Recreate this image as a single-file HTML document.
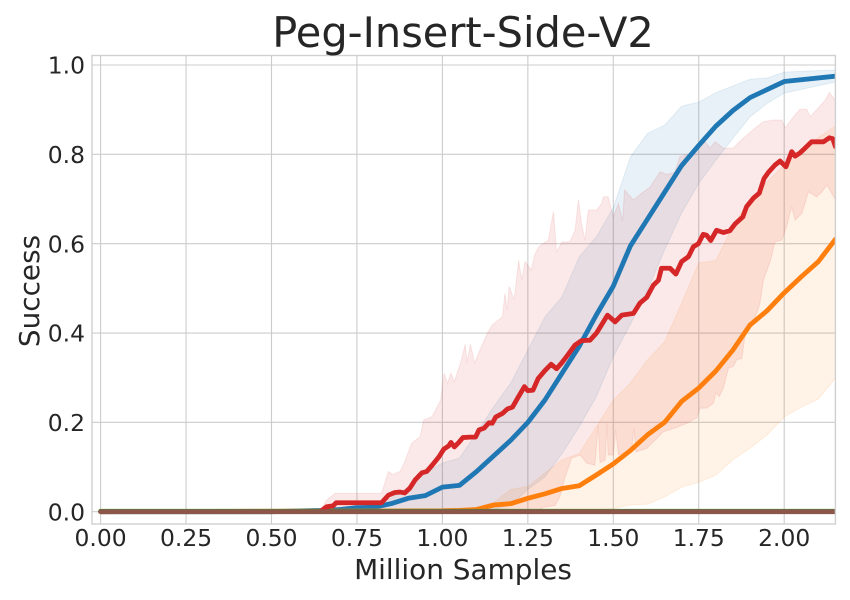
<!DOCTYPE html>
<html lang="en">
<head>
<meta charset="utf-8">
<title>Peg-Insert-Side-V2</title>
<style>
html,body{margin:0;padding:0;background:#fff;width:850px;height:600px;overflow:hidden}
svg{display:block}
text{font-family:"DejaVu Sans","Liberation Sans",sans-serif;fill:#262626}
</style>
</head>
<body>
<svg id="chart" xmlns="http://www.w3.org/2000/svg" width="850" height="600" viewBox="0 0 850 600">
  <defs><clipPath id="plot-clip"><rect x="92" y="55.5" width="743.4" height="468.5"/></clipPath></defs>
  <rect x="0" y="0" width="850" height="600" fill="#fff"/>
  <g id="grid"></g>
  <g id="bands" clip-path="url(#plot-clip)"></g>
  <g id="lines" clip-path="url(#plot-clip)"></g>
  <rect x="92" y="55.5" width="743.4" height="468.5" fill="none" stroke="#d0d0d0" stroke-width="1.4"/>
  <g id="ticks"></g>
  <text x="463" y="47" text-anchor="middle" font-size="41.5px">Peg-Insert-Side-V2</text>
  <text x="463" y="579" text-anchor="middle" font-size="27.9px">Million Samples</text>
  <text x="39" y="291" text-anchor="middle" font-size="27.9px" transform="rotate(-90 39 291)">Success</text>
</svg>
<script>
const xTicks = [0, 0.25, 0.5, 0.75, 1, 1.25, 1.5, 1.75, 2];
const xTickLabels = ["0.00", "0.25", "0.50", "0.75", "1.00", "1.25", "1.50", "1.75", "2.00"];
const yTicks = [0, 0.2, 0.4, 0.6, 0.8, 1];
const yTickLabels = ["0.0", "0.2", "0.4", "0.6", "0.8", "1.0"];

const blueX = [0,0.5,0.55,0.6,0.65,0.7,0.75,0.8,0.85,0.9,0.95,1,1.05,1.1,1.15,1.2,1.25,1.3,1.35,1.4,1.45,1.5,1.55,1.6,1.65,1.7,1.75,1.8,1.85,1.9,1.95,2,2.15];
const blueMean = [0,0,0.001,0.002,0.003,0.005,0.009,0.01,0.018,0.03,0.036,0.055,0.059,0.09,0.125,0.16,0.2,0.25,0.31,0.37,0.44,0.505,0.595,0.655,0.715,0.775,0.82,0.863,0.898,0.927,0.945,0.963,0.975];
const blueUpper = [0,0.001,0.003,0.004,0.006,0.01,0.012,0.015,0.03,0.055,0.087,0.109,0.12,0.176,0.235,0.288,0.362,0.436,0.481,0.57,0.615,0.68,0.794,0.847,0.865,0.908,0.917,0.938,0.953,0.968,0.971,0.984,0.989];
const blueLower = [0,0,0,0,0,0,0,0,0,0,0,0,0,0,0.005,0.015,0.05,0.078,0.13,0.19,0.257,0.347,0.42,0.496,0.586,0.669,0.735,0.787,0.836,0.884,0.914,0.937,0.962];

const orangeX = [0,1,1.05,1.1,1.15,1.2,1.25,1.3,1.35,1.4,1.45,1.5,1.55,1.6,1.65,1.7,1.75,1.8,1.85,1.9,1.95,2,2.05,2.1,2.15];
const orangeMean = [0,0.002,0.003,0.005,0.015,0.018,0.03,0.04,0.052,0.058,0.082,0.107,0.137,0.172,0.2,0.247,0.277,0.315,0.362,0.418,0.45,0.49,0.526,0.56,0.61];
const orangeUpper = [0,0.002,0.003,0.005,0.02,0.05,0.056,0.087,0.116,0.13,0.19,0.25,0.288,0.34,0.38,0.467,0.557,0.562,0.64,0.7,0.738,0.776,0.81,0.838,0.863];
const orangeLower = [0,0,0,0,0,0,0,0,0.001,0.002,0.003,0.007,0.015,0.017,0.033,0.055,0.066,0.082,0.116,0.142,0.172,0.212,0.234,0.252,0.299];

const redMeanX = [0.642,0.661,0.68,0.689,0.822,0.842,0.861,0.876,0.89,0.905,0.92,0.94,0.954,0.97,0.99,1.004,1.018,1.025,1.035,1.048,1.06,1.082,1.097,1.107,1.122,1.136,1.146,1.156,1.176,1.19,1.205,1.22,1.24,1.25,1.265,1.28,1.3,1.318,1.334,1.35,1.363,1.388,1.407,1.432,1.451,1.471,1.483,1.505,1.525,1.559,1.578,1.598,1.617,1.632,1.641,1.666,1.683,1.7,1.72,1.734,1.749,1.763,1.773,1.785,1.802,1.822,1.841,1.856,1.879,1.89,1.91,1.927,1.941,1.954,1.973,1.988,2.005,2.022,2.032,2.046,2.061,2.08,2.1,2.115,2.132,2.142,2.15];
const redMean = [0,0.011,0.013,0.02,0.02,0.037,0.043,0.044,0.042,0.053,0.071,0.087,0.09,0.104,0.123,0.14,0.147,0.155,0.145,0.155,0.166,0.167,0.167,0.183,0.187,0.199,0.198,0.212,0.22,0.23,0.234,0.254,0.28,0.271,0.272,0.298,0.316,0.33,0.32,0.334,0.347,0.373,0.383,0.384,0.4,0.425,0.44,0.425,0.44,0.444,0.467,0.48,0.507,0.518,0.545,0.545,0.532,0.56,0.571,0.593,0.6,0.621,0.619,0.607,0.63,0.625,0.629,0.644,0.66,0.683,0.702,0.713,0.746,0.76,0.776,0.785,0.772,0.806,0.796,0.803,0.814,0.828,0.828,0.828,0.837,0.835,0.817];

const redUpperX = [0.642,0.661,0.686,0.822,0.842,0.855,0.876,0.89,0.91,0.935,0.945,0.97,0.995,1.005,1.015,1.025,1.035,1.053,1.067,1.072,1.082,1.094,1.116,1.132,1.146,1.176,1.183,1.19,1.195,1.21,1.223,1.232,1.242,1.26,1.27,1.282,1.31,1.325,1.334,1.35,1.373,1.388,1.398,1.407,1.417,1.427,1.451,1.466,1.471,1.485,1.5,1.515,1.527,1.533,1.559,1.583,1.608,1.637,1.656,1.68,1.695,1.734,1.768,1.783,1.798,1.822,1.85,1.88,1.92,1.939,1.968,1.993,2.003,2.027,2.046,2.066,2.076,2.1,2.12,2.132,2.15];
const redUpper = [0,0.026,0.041,0.041,0.09,0.083,0.09,0.112,0.153,0.168,0.205,0.213,0.25,0.31,0.287,0.31,0.291,0.333,0.375,0.333,0.375,0.333,0.373,0.4,0.418,0.437,0.489,0.451,0.505,0.474,0.563,0.519,0.56,0.541,0.575,0.593,0.608,0.672,0.582,0.604,0.604,0.63,0.698,0.645,0.608,0.675,0.675,0.69,0.705,0.705,0.66,0.69,0.651,0.72,0.698,0.713,0.727,0.761,0.755,0.76,0.795,0.803,0.828,0.814,0.828,0.814,0.814,0.836,0.862,0.873,0.877,0.877,0.859,0.884,0.901,0.901,0.884,0.904,0.921,0.939,0.921];

const redLowerX = [0.642,1.28,1.295,1.33,1.344,1.359,1.378,1.403,1.422,1.446,1.456,1.461,1.476,1.481,1.485,1.5,1.507,1.515,1.554,1.56,1.566,1.598,1.622,1.646,1.68,1.715,1.744,1.754,1.773,1.793,1.8,1.81,1.822,1.837,1.851,1.861,1.876,1.885,1.905,1.92,1.929,1.939,1.959,1.973,1.993,2.007,2.022,2.032,2.052,2.071,2.095,2.11,2.125,2.139,2.15];
const redLower = [0,0,0.01,0.014,0.034,0.078,0.12,0.127,0.109,0.104,0.194,0.11,0.115,0.198,0.127,0.127,0.183,0.127,0.138,0.187,0.134,0.142,0.16,0.179,0.187,0.198,0.21,0.232,0.232,0.243,0.266,0.258,0.277,0.322,0.325,0.34,0.343,0.392,0.422,0.444,0.467,0.518,0.56,0.604,0.608,0.638,0.683,0.653,0.668,0.716,0.705,0.716,0.731,0.713,0.698];

const flatX = [0, 2.15];
const greenMean = [0.001, 0.001];
const brownMean = [0, 0];

const SVG_NS = "http://www.w3.org/2000/svg";
function xScale(v) { return 100.6 + 341.8 * v; }
function yScale(v) { return 511.7 - 446.7 * v; }
function pts(xs, ys) {
  return xs.map(function (x, i) { return xScale(x).toFixed(2) + "," + yScale(ys[i]).toFixed(2); });
}
function bandPoints(xu, yu, xl, yl) {
  return pts(xu, yu).concat(pts(xl, yl).reverse()).join(" ");
}
function makeBand(xu, yu, xl, yl, color) {
  const el = document.createElementNS(SVG_NS, "polygon");
  el.setAttribute("points", bandPoints(xu, yu, xl, yl));
  el.setAttribute("fill", color);
  el.setAttribute("fill-opacity", "0.1");
  el.setAttribute("stroke", color);
  el.setAttribute("stroke-opacity", "0.1");
  el.setAttribute("stroke-width", "1");
  document.getElementById("bands").appendChild(el);
  return el;
}
function makeLine(xs, ys, color, width) {
  const el = document.createElementNS(SVG_NS, "polyline");
  el.setAttribute("points", pts(xs, ys).join(" "));
  el.setAttribute("fill", "none");
  el.setAttribute("stroke", color);
  el.setAttribute("stroke-width", width);
  el.setAttribute("stroke-linejoin", "round");
  el.setAttribute("stroke-linecap", "round");
  document.getElementById("lines").appendChild(el);
  return el;
}
function makeTickText(x, y, anchor, label) {
  const el = document.createElementNS(SVG_NS, "text");
  el.setAttribute("x", x);
  el.setAttribute("y", y);
  el.setAttribute("text-anchor", anchor);
  el.setAttribute("font-size", "23.4px");
  el.textContent = label;
  document.getElementById("ticks").appendChild(el);
  return el;
}
function makeGridLine(x1, y1, x2, y2) {
  const el = document.createElementNS(SVG_NS, "line");
  el.setAttribute("x1", x1);
  el.setAttribute("y1", y1);
  el.setAttribute("x2", x2);
  el.setAttribute("y2", y2);
  el.setAttribute("stroke", "#cccccc");
  el.setAttribute("stroke-width", "1.1");
  document.getElementById("grid").appendChild(el);
  return el;
}

xTicks.forEach(function (t, i) {
  const g = makeGridLine(xScale(t), 55.5, xScale(t), 524);
  
  
  const l = makeTickText(xScale(t), 546, "middle", xTickLabels[i]);
  
  
});
yTicks.forEach(function (t, i) {
  const g = makeGridLine(92, yScale(t), 835.4, yScale(t));
  
  
  const l = makeTickText(85, yScale(t) + 8.6, "end", yTickLabels[i]);
  
  
});

const blueBand = makeBand(blueX, blueUpper, blueX, blueLower, "#1f77b4");


const orangeBand = makeBand(orangeX, orangeUpper, orangeX, orangeLower, "#ff7f0e");


const redBand = makeBand(redUpperX, redUpper, redLowerX, redLower, "#d62728");



const blueLine = makeLine(blueX, blueMean, "#1f77b4", 4.8);


const orangeLine = makeLine(orangeX, orangeMean, "#ff7f0e", 4.8);


const greenLine = makeLine(flatX, greenMean, "#2ca02c", 4.8);


const redLine = makeLine(redMeanX, redMean, "#d62728", 4.8);


const brownLine = makeLine(flatX, brownMean, "#8c564b", 4.8);


</script>
</body>
</html>
